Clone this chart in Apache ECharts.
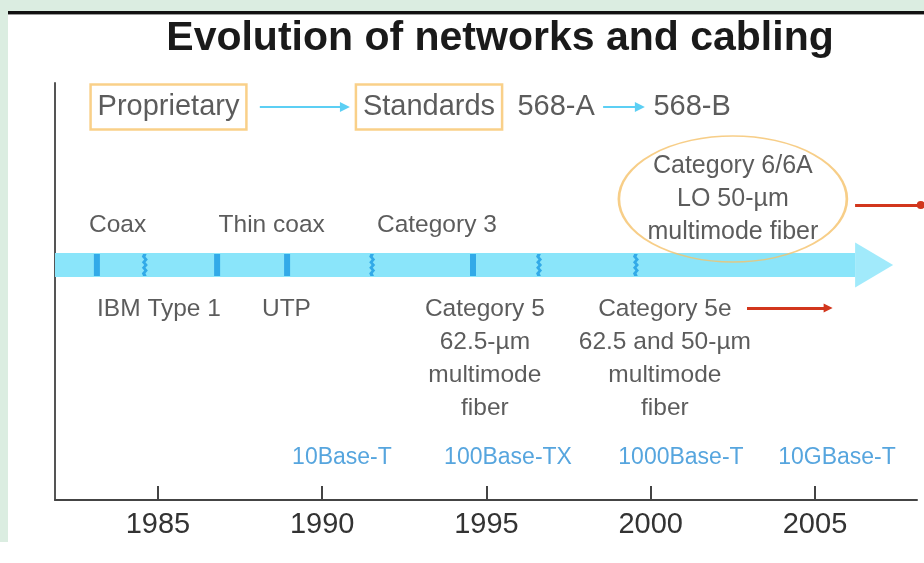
<!DOCTYPE html>
<html><head><meta charset="utf-8">
<script src="https://cdn.jsdelivr.net/npm/echarts@6/dist/echarts.min.js"></script>
<style>html,body{margin:0;padding:0;background:#fff;}#c{width:924px;height:563px;}</style>
</head><body><div id="c"></div>
<script>
// ---- data (years) ----
const tickYears = [1985, 1990, 1995, 2000, 2005];
const topLabels = ['Proprietary', 'Standards', '568-A', '568-B'];
const topYears = [1985.32, 1993.25, 1997.12, 2001.26];
const topBoxed = [true, true, false, false];
const topArrows = [[1988.10, 1990.69], [1998.55, 1999.67]];
const bandRange = [1981.865, 2006.22];
const bandTip = 2007.38;
const solidMarkerYears = [1983.14, 1986.80, 1988.93, 1994.59];
const zigzagMarkerYears = [1984.60, 1991.52, 1996.60, 1999.55];
const aboveLabels = ['Coax', 'Thin coax', 'Category 3'];
const aboveYears = [1983.77, 1988.46, 1993.49];
const belowLabels = ['IBM Type 1', 'UTP', 'Category 5\n62.5-µm\nmultimode\nfiber', 'Category 5e\n62.5 and 50-µm\nmultimode\nfiber'];
const belowYears = [1985.03, 1988.91, 1994.95, 2000.43];
const cat5eArrow = [2002.93, 2005.40];
const futureLabel = 'Category 6/6A\nLO 50-µm\nmultimode fiber';
const futureYear = 2002.5;
const futureLine = [2006.22, 2008.22];
const ethernetLabels = ['10Base-T', '100Base-TX', '1000Base-T', '10GBase-T'];
const ethernetYears = [1990.60, 1995.655, 2000.92, 2005.67];

// ---- layout (vertical lanes, in grid units = px above axis) ----
const lane = { top: 393, above: 275, band: 235, below: 192, oval: 301, red: 295, eth: 42 };
const REG = '"Liberation Sans", Arial, sans-serif';
const TXT = '#333';

const chart = echarts.init(document.getElementById('c'));
const zig = 'path://M2,0 L5,0 L4,3 L6,6 L4,9 L6,12 L4,15 L6,18 L4,21 L5,24 L2,24 L1,21 L3,18 L1,15 L3,12 L1,9 L3,6 L1,3 Z';

function textSeries(labels, years, y, opts) {
  return Object.assign({
    type: 'scatter', symbolSize: 1, itemStyle: { color: 'transparent' }, silent: true, z: 5,
    data: labels.map((t, i) => ({ value: [years[i], y], name: t })),
    label: Object.assign({ show: true, position: 'inside', formatter: p => p.name, color: TXT,
      fontFamily: REG, fontSize: 24.5, lineHeight: 33, align: 'center', verticalAlign: 'middle' }, opts.label || {})
  }, opts.series || {});
}

const series = [];
// band shaft
series.push({ type: 'line', data: bandRange.map(x => [x, lane.band]), symbol: 'none', z: 2,
  lineStyle: { color: '#8ae5fa', width: 24, cap: 'butt' }, silent: true });
// band head
series.push({ type: 'scatter', data: [[(bandRange[1] + bandTip) / 2, lane.band]], symbol: 'triangle',
  symbolRotate: -90, symbolSize: [45, 38], itemStyle: { color: '#8ae5fa' }, z: 2, silent: true });
// markers
series.push({ type: 'scatter', data: solidMarkerYears.map(x => [x, lane.band]), symbol: 'rect',
  symbolSize: [6, 22], itemStyle: { color: '#1b9be4' }, z: 3, silent: true });
series.push({ type: 'scatter', data: zigzagMarkerYears.map(x => [x, lane.band]), symbol: zig,
  symbolSize: [6, 22], itemStyle: { color: '#1b9be4' }, z: 3, silent: true });
// top row
topLabels.forEach((t, i) => {
  series.push(textSeries([t], [topYears[i]], lane.top, { label: topBoxed[i] ?
    { fontSize: 29, lineHeight: 44, padding: [1, 7, 0, 7], borderColor: '#f7c46c', borderWidth: 2.5 } :
    { fontSize: 29 } }));
});
topArrows.forEach(a => {
  series.push({ type: 'lines', coordinateSystem: 'cartesian2d', silent: true, z: 4,
    symbol: ['none', 'triangle'], symbolSize: 10,
    lineStyle: { color: '#5ccff4', width: 2, opacity: 1 },
    data: [{ coords: [[a[0], lane.top], [a[1], lane.top]] }] });
});
// labels
series.push(textSeries(aboveLabels, aboveYears, lane.above, {}));
series.push(textSeries(belowLabels, belowYears, lane.below, { label: { verticalAlign: 'top', offset: [0, -15] } }));
series.push(textSeries(ethernetLabels, ethernetYears, lane.eth, { label: { color: '#2c8fd6', fontSize: 23 } }));
// oval
series.push({ type: 'scatter', data: [[futureYear, lane.oval]], symbol: 'circle', symbolSize: [228, 126],
  itemStyle: { color: 'transparent', borderColor: '#f5c26a', borderWidth: 2 }, z: 6, silent: true,
  label: { show: true, position: 'inside', formatter: futureLabel, color: TXT, fontFamily: REG,
    fontSize: 25, lineHeight: 33, align: 'center', verticalAlign: 'middle' } });
// red arrows
series.push({ type: 'lines', coordinateSystem: 'cartesian2d', silent: true, z: 4,
  symbol: ['none', 'triangle'], symbolSize: 9,
  lineStyle: { color: '#d2361c', width: 3, opacity: 1 },
  data: [{ coords: [[cat5eArrow[0], lane.below], [cat5eArrow[1], lane.below]] }] });
series.push({ type: 'lines', coordinateSystem: 'cartesian2d', silent: true, z: 4, clip: false,
  symbol: ['none', 'circle'], symbolSize: 8,
  lineStyle: { color: '#d2361c', width: 3, opacity: 1 },
  data: [{ coords: [[futureLine[0], lane.red], [futureLine[1], lane.red]] }] });

chart.setOption({
  backgroundColor: '#fff',
  animation: false,
  title: { text: 'Evolution of networks and cabling', left: 495, textAlign: 'center', top: 13,
    textStyle: { fontFamily: REG, fontWeight: 'bold', fontSize: 41, color: '#1a1a1a' } },
  graphic: [
    { type: 'rect', shape: { x: 0, y: 0, width: 924, height: 11 }, style: { fill: '#dbede1' }, z: -10 },
    { type: 'rect', shape: { x: 0, y: 0, width: 8, height: 542 }, style: { fill: '#dbede1' }, z: -10 },
    { type: 'rect', shape: { x: 8, y: 11, width: 916, height: 3 }, style: { fill: '#111' }, z: -9 },
    { type: 'rect', shape: { x: 8, y: 14, width: 916, height: 1 }, style: { fill: '#999' }, z: -9 }
  ],
  grid: { left: 55, right: 7, top: 83, bottom: 63 },
  xAxis: { type: 'value', min: 1981.865, max: 2008.105,
    axisLine: { lineStyle: { color: '#444', width: 2 } },
    axisTick: { inside: true, length: 14, lineStyle: { color: '#444', width: 2 }, customValues: tickYears },
    axisLabel: { customValues: tickYears, formatter: v => String(v), color: TXT, fontFamily: REG, fontSize: 29, margin: 10 },
    splitLine: { show: false } },
  yAxis: { type: 'value', min: 0, max: 417, axisLine: { show: true, lineStyle: { color: '#555', width: 2 } },
    axisTick: { show: false }, axisLabel: { show: false }, splitLine: { show: false } },
  series: series
});
</script></body></html>
